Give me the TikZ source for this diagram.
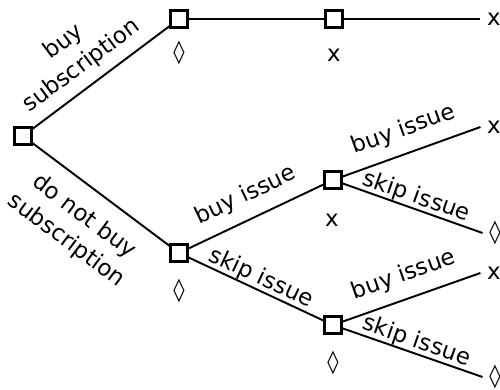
\documentclass[tikz,border=0pt]{standalone}
\usepackage{fontspec}
\setmainfont{DejaVu Sans}
\usepackage{tikz}
\usetikzlibrary{positioning}
\tikzset{decision/.style={draw,rectangle,line width=1.6pt,minimum size=0.33cm,inner sep=0pt}}
\tikzset{buylabel/.style={sloped,inner sep=0pt,above=6.5pt}}
\tikzset{skiplabel/.style={sloped,inner sep=0pt,above=0pt}}

\begin{document}
\begin{tikzpicture}[x=0.02cm,y=-0.02cm,line width=1.1pt,font=\fontsize{13}{17}\selectfont]
	\useasboundingbox (0,0) rectangle (500,389);
	\node[decision] (R) at (23,136) {};
	\node[decision] (A) at (179,19) {};
	\node[decision] (B) at (334,19) {};
	\node[decision] (C) at (179,253) {};
	\node[decision] (D) at (333,180) {};
	\node[decision] (E) at (333,325) {};
	\node (Av) at (179,53) {◊};
	\node (Bv) at (334,55) {x};
	\node (Cv) at (179,291) {◊};
	\node (Dv) at (332,220) {x};
	\node (Ev) at (333,363) {◊};
	\node (F) at (494,19) {x};
	\node (G) at (494,127) {x};
	\node (H) at (495,233) {◊};
	\node (I) at (494,273) {x};
	\node (J) at (495,377) {◊};
	\path (R) edge node[sloped,pos=0.45,above=5pt,align=center,inner sep=0pt] {buy\\subscription} (A);
	\path (R) edge node[sloped,below=9pt,align=center,inner sep=0pt] {do not buy\\subscription} (C);
	\path (A) edge (B);
	\path (B) edge (F.west);
	\path (C) edge node[buylabel] {buy issue} (D);
	\path (C) edge node[skiplabel] {skip issue} (E);
	\path (D) edge node[buylabel] {buy issue} (G.west);
	\path (D) edge node[skiplabel] {skip issue} (H.west);
	\path (E) edge node[buylabel] {buy issue} (I.west);
	\path (E) edge node[skiplabel] {skip issue} (J.west);
\end{tikzpicture}
\end{document}
